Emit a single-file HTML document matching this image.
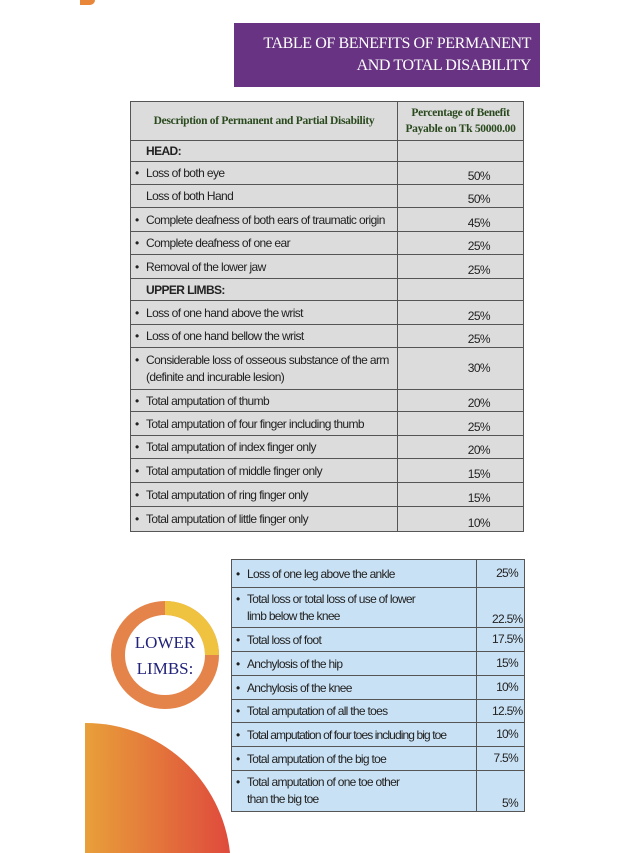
<!DOCTYPE html>
<html><head><meta charset="utf-8"><style>
*{margin:0;padding:0;box-sizing:border-box}
body{width:640px;height:853px;background:#fff;position:relative;overflow:hidden;font-family:"Liberation Sans",sans-serif}
.abs{position:absolute}
.title{left:234px;top:23px;width:306px;height:64px;background:#673382;color:#fff;font-family:"Liberation Serif",serif;font-size:16px;line-height:22px;text-align:right;padding:10px 9px 0 0;white-space:nowrap;letter-spacing:-0.4px}
table{position:absolute;border-collapse:collapse;table-layout:fixed;font-family:"Liberation Sans",sans-serif;font-size:12px;color:#222;letter-spacing:-0.6px}
td{border:1.5px solid #555;padding:0 4px 0 15px;position:relative;vertical-align:middle;overflow:hidden}
td.p{text-align:right;padding-right:33px;vertical-align:bottom;padding-bottom:1px}
#t1{left:130px;top:101px;width:393px;background:#dcdcdc}
#t2{left:231px;top:559px;width:293px;background:#c9e1f4;font-size:12px;letter-spacing:-0.7px}
#t2 td.p{padding-right:6px}
.nw{white-space:nowrap}
.b::before{content:"•";position:absolute;left:4px}
.hd{font-family:"Liberation Serif",serif;font-weight:bold;color:#2a4a1e;text-align:center;font-size:11.5px;padding:0 2px;letter-spacing:-0.3px}
</style></head><body>
<div class="abs" style="left:80px;top:0;width:15px;height:5px;background:#e8873a;border-radius:0 0 8px 0"></div>
<div class="abs title">TABLE OF BENEFITS OF PERMANENT<br>AND TOTAL DISABILITY</div>
<table id="t1">
<colgroup><col style="width:267px"><col style="width:126px"></colgroup>
<tr style="height:39px"><td class="hd">Description of Permanent and Partial Disability</td><td class="hd" style="line-height:16px">Percentage of Benefit<br>Payable on Tk 50000.00</td></tr>
<tr style="height:21px"><td><b>HEAD:</b></td><td></td></tr>
<tr style="height:23px"><td class="b">Loss of both eye</td><td class="p">50%</td></tr>
<tr style="height:23px"><td>Loss of both Hand</td><td class="p">50%</td></tr>
<tr style="height:24px"><td class="b nw">Complete deafness of both ears of traumatic origin</td><td class="p">45%</td></tr>
<tr style="height:23px"><td class="b">Complete deafness of one ear</td><td class="p">25%</td></tr>
<tr style="height:24px"><td class="b">Removal of the lower jaw</td><td class="p">25%</td></tr>
<tr style="height:22px"><td><b>UPPER LIMBS:</b></td><td></td></tr>
<tr style="height:24px"><td class="b">Loss of one hand above the wrist</td><td class="p">25%</td></tr>
<tr style="height:23px"><td class="b">Loss of one hand bellow the wrist</td><td class="p">25%</td></tr>
<tr style="height:42px"><td class="b" style="line-height:17px">Considerable loss of osseous substance of the arm<br>(definite and incurable lesion)</td><td class="p" style="vertical-align:middle">30%</td></tr>
<tr style="height:22px"><td class="b">Total amputation of thumb</td><td class="p">20%</td></tr>
<tr style="height:24px"><td class="b">Total amputation of four finger including thumb</td><td class="p">25%</td></tr>
<tr style="height:23px"><td class="b">Total amputation of index finger only</td><td class="p">20%</td></tr>
<tr style="height:24px"><td class="b">Total amputation of middle finger only</td><td class="p">15%</td></tr>
<tr style="height:24px"><td class="b">Total amputation of ring finger only</td><td class="p">15%</td></tr>
<tr style="height:25px"><td class="b">Total amputation of little finger only</td><td class="p">10%</td></tr>
</table>
<svg class="abs" style="left:0;top:0" width="640" height="853">
<defs><linearGradient id="g" x1="0" x2="1" y1="0" y2="0"><stop offset="0" stop-color="#e8a03a"/><stop offset="1" stop-color="#df4a3c"/></linearGradient></defs>
<path d="M85 723 A145 145 0 0 1 230 853 L85 853Z" fill="url(#g)"/>
<circle cx="165" cy="655" r="47" fill="none" stroke="#e5844a" stroke-width="14"/>
<path d="M165 601 A54 54 0 0 1 219 655 L205 655 A40 40 0 0 0 165 615Z" fill="#efc33f"/>
<text x="165" y="648" text-anchor="middle" font-family="Liberation Serif" font-size="17" fill="#22237a">LOWER</text>
<text x="165" y="674" text-anchor="middle" font-family="Liberation Serif" font-size="17" fill="#22237a">LIMBS:</text>
</svg>
<table id="t2">
<colgroup><col style="width:245px"><col style="width:48px"></colgroup>
<tr style="height:28px"><td class="b">Loss of one leg above the ankle</td><td class="p" style="vertical-align:middle">25%</td></tr>
<tr style="height:40px"><td class="b" style="line-height:17px">Total loss or total loss of use of lower<br>limb below the knee</td><td class="p">22.5%</td></tr>
<tr style="height:24px"><td class="b">Total loss of foot</td><td class="p" style="vertical-align:middle">17.5%</td></tr>
<tr style="height:24px"><td class="b">Anchylosis of the hip</td><td class="p" style="vertical-align:middle">15%</td></tr>
<tr style="height:24px"><td class="b">Anchylosis of the knee</td><td class="p" style="vertical-align:middle">10%</td></tr>
<tr style="height:23px"><td class="b">Total amputation of all the toes</td><td class="p" style="vertical-align:middle">12.5%</td></tr>
<tr style="height:24px"><td class="b nw" style="letter-spacing:-0.9px">Total amputation of four toes including big toe</td><td class="p" style="vertical-align:middle">10%</td></tr>
<tr style="height:24px"><td class="b">Total amputation of the big toe</td><td class="p" style="vertical-align:middle">7.5%</td></tr>
<tr style="height:41px"><td class="b" style="line-height:17px">Total amputation of one toe other<br>than the big toe</td><td class="p">5%</td></tr>
</table>
</body></html>
